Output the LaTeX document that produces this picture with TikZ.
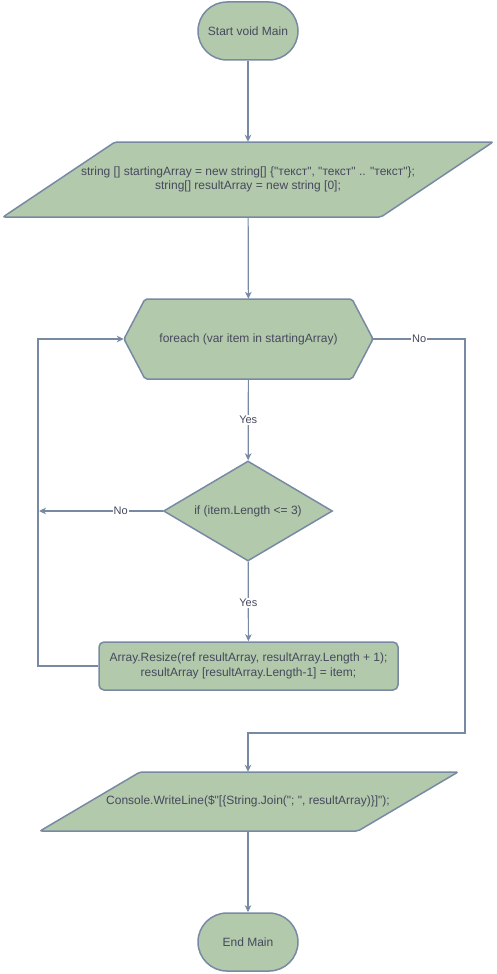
\documentclass[tikz,border=0pt]{standalone}
\usepackage{fontspec}
\setmainfont{Liberation Sans}[Ligatures=TeXOff]
\usetikzlibrary{shapes.geometric,arrows.meta}
\definecolor{blockfill}{HTML}{B2C9AB}
\definecolor{blockline}{HTML}{788AA3}
\definecolor{blocktext}{HTML}{46495D}

\begin{document}
\begin{tikzpicture}[x=1pt,y=-1pt,
		every node/.style={font=\fontsize{12}{14.5}\selectfont, text=blocktext, align=center},
		term/.style={draw=blockline, fill=blockfill, line width=1.5pt, rounded corners=29pt,
			minimum width=100pt, minimum height=58pt},
		plain/.style={inner sep=0pt},
		block/.style={draw=blockline, fill=blockfill, line width=1.5pt, rounded corners=2pt},
		test/.style={diamond, aspect=1.7, draw=blockline, fill=blockfill, line width=1.5pt,
			inner sep=0pt, minimum width=169pt, minimum height=100pt},
		act/.style={draw=blockline, fill=blockfill, line width=1.5pt, rounded corners=5pt,
			minimum width=299pt, minimum height=48pt},
		arr/.style={draw=blockline, line width=1.2pt, -{Stealth[length=7pt,width=6.5pt,inset=2pt]}},
		lbl/.style={fill=white, inner sep=1pt, font=\fontsize{11}{13}\selectfont}]
		\useasboundingbox (0,0) rectangle (497,974);
		% shapes drawn by hand
		\draw[block] (115,142) -- (493,142) -- (381,217) -- (3,217) -- cycle;
		\draw[block] (145,299) -- (352,299) -- (373,339) -- (352,379) -- (145,379) -- (124,339) -- cycle;
		\draw[block] (140,772) -- (458,772) -- (358,831) -- (40,831) -- cycle;
		% nodes
		\node[term] (start) at (248,31) {Start void Main};
		\node[plain, minimum width=266pt, minimum height=75pt] (init) at (248,179.5)
			{string [] startingArray = new string[] \{"текст", "текст" .. "текст"\};\\
			string[] resultArray = new string [0];};
		\node[plain, minimum width=249pt, minimum height=80pt] (loop) at (248.5,339)
			{foreach (var item in startingArray)};
		\node[test] (check) at (248,511) {if (item.Length <= 3)};
		\node[act] (resize) at (248.5,666)
			{Array.Resize(ref resultArray, resultArray.Length + 1);\\
			resultArray [resultArray.Length-1] = item;};
		\node[plain, minimum width=200pt, minimum height=59pt] (output) at (248,801.5)
			{Console.WriteLine(\$"[\{String.Join("; ", resultArray)\}]");};
		\node[term] (stop) at (248,942) {End Main};
		\coordinate (noend) at (39,511);
		\coordinate (back) at (38,666);
		\coordinate (exit) at (465,733);
		% connectors
		\draw[arr] (start) -- (init);
		\draw[arr] (init) -- (loop);
		\draw[arr] (loop) -- node[lbl] {Yes} (check);
		\draw[arr] (check.west) -- node[lbl, pos=0.34] {No} (noend);
		\draw[arr] (check) -- node[lbl, pos=0.52] {Yes} (resize);
		\draw[arr] (resize.west) -- (back) |- (loop.west);
		\draw[arr] (loop.east) -- node[lbl] {No} (loop.east -| exit) -- (exit) -- (exit -| output) -- (output);
		\draw[arr] (output) -- (stop);
\end{tikzpicture}
\end{document}
